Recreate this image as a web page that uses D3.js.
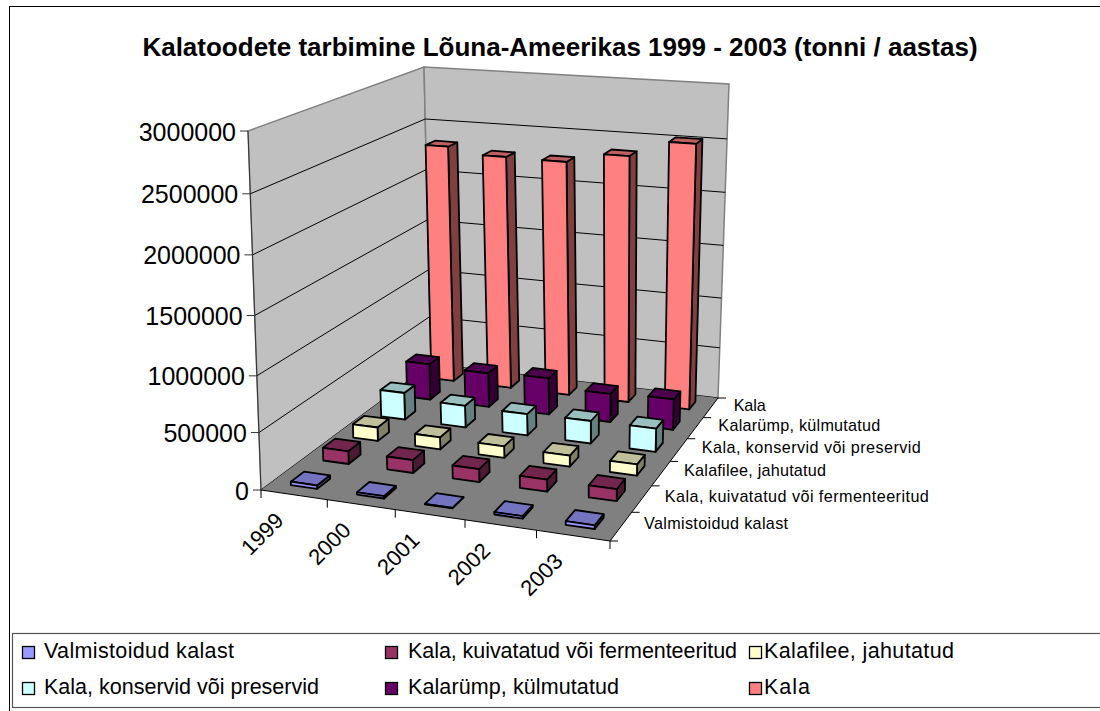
<!DOCTYPE html>
<html><head><meta charset="utf-8">
<style>html,body{margin:0;padding:0;background:#fff}svg{display:block}text{font-family:"Liberation Sans",Arial,sans-serif;fill:#000}</style>
<script src="https://cdn.jsdelivr.net/npm/d3@7/dist/d3.min.js"></script></head>
<body><svg id="c" width="1100" height="711"></svg>
<script>
const years = ["1999","2000","2001","2002","2003"];
const seriesNames = ["Valmistoidud kalast","Kala, kuivatatud või fermenteeritud","Kalafilee, jahutatud","Kala, konservid või preservid","Kalarümp, külmutatud","Kala"];
const valmistoidud = [30000,20000,5000,20000,30000];
const kuivatatud = [115000,115000,115000,105000,105000];
const filee = [125000,110000,105000,100000,100000];
const konservid = [255000,205000,200000,210000,215000];
const rump = [350000,330000,350000,270000,290000];
const kala = [2328000,2270000,2265000,2363000,2519000];
const seriesValues = [valmistoidud,kuivatatud,filee,konservid,rump,kala];
const seriesColors = ["#9999FF","#993366","#FFFFCC","#CCFFFF","#660066","#FF8080"];
const valueTicks = [0,500000,1000000,1500000,2000000,2500000,3000000];
// measured label widths of the picture, used only to fit the text
const depthLabelWidths = [144,264,142,219,162,32];
const legendLabelWidths = [190,329,190,275,211,46];

// projection frame
const floorQuad = [[261,490],[610,541],[718,398],[431,364]];
const topQuad = [[248,131],[615,164],[729,84],[424,67]];
const heightFractions = [0,0.16,0.318,0.486,0.655,0.825,1];
function homography(q){
  const [[x0,y0],[x1,y1],[x2,y2],[x3,y3]] = q;
  const dx1=x1-x2,dx2=x3-x2,dx3=x0-x1+x2-x3,dy1=y1-y2,dy2=y3-y2,dy3=y0-y1+y2-y3;
  const det=dx1*dy2-dx2*dy1, g=(dx3*dy2-dx2*dy3)/det, h=(dx1*dy3-dx3*dy1)/det;
  const a=x1-x0+g*x1,b=x3-x0+h*x3,d=y1-y0+g*y1,e=y3-y0+h*y3;
  return (u,v)=>{const w=g*u+h*v+1;return [(a*u+b*v+x0)/w,(d*u+e*v+y0)/w];};
}
const H0=homography(floorQuad),H1=homography(topQuad);
const U=d3.scaleBand().domain(years).range([0,1]);
const V=d3.scaleBand().domain(seriesNames).range([0,1]);
const Z=d3.scaleLinear().domain(valueTicks).range(heightFractions);
function P(u,v,val){const t=Z(val),a=H0(u,v),b=H1(u,v);return [a[0]+(b[0]-a[0])*t,a[1]+(b[1]-a[1])*t];}
const poly=pts=>pts.map(p=>p[0].toFixed(1)+","+p[1].toFixed(1)).join(" ");

const svg=d3.select("#c");
svg.append("rect").attr("x",9.5).attr("y",6.5).attr("width",1200).attr("height",800).attr("fill","#fff").attr("stroke","#000").attr("stroke-width",1);

svg.append("text").attr("x",560).attr("y",56).attr("text-anchor","middle").attr("font-size",26).attr("font-weight","bold").text("Kalatoodete tarbimine Lõuna-Ameerikas 1999 - 2003 (tonni / aastas)");

// walls and floor
const zMax=3000000;
svg.append("polygon").attr("points",poly([P(0,0,0),P(0,0,zMax),P(0,1,zMax),P(0,1,0)])).attr("fill","#C0C0C0").attr("stroke","#808080").attr("stroke-width",1.5);
svg.append("polygon").attr("points",poly([P(0,1,0),P(0,1,zMax),P(1,1,zMax),P(1,1,0)])).attr("fill","#C0C0C0").attr("stroke","#808080").attr("stroke-width",1.5);
valueTicks.forEach(t=>{ if(t===zMax) return;
  svg.append("polyline").attr("points",poly([P(0,0,t),P(0,1,t),P(1,1,t)])).attr("fill","none").attr("stroke","#000").attr("stroke-width",1);
});
svg.append("polygon").attr("points",poly([P(0,0,0),P(1,0,0),P(1,1,0),P(0,1,0)])).attr("fill","#808080");
const axisLine=(a,b,c="#000")=>svg.append("line").attr("x1",a[0]).attr("y1",a[1]).attr("x2",b[0]).attr("y2",b[1]).attr("stroke",c).attr("stroke-width",1);
axisLine(P(0,0,0),P(1,0,0));
axisLine(P(1,0,0),P(1,1,0));
axisLine(P(0,0,0),P(0,0,zMax),"#333");

// value axis
valueTicks.forEach(t=>{const p=P(0,0,t);
  axisLine([p[0]-8,p[1]],p,"#333");
  svg.append("text").attr("x",p[0]-12).attr("y",p[1]+9.5).attr("text-anchor","end").attr("font-size",25).text(t);
});
// category axis
years.forEach(y=>{const p=P(U(y),0,0);axisLine(p,[p[0],p[1]+8]);});
{const p=P(1,0,0);axisLine(p,[p[0],p[1]+8]);}
years.forEach(y=>{const p=P(U(y)+U.bandwidth()/2,0,0);
  svg.append("text").attr("transform",`translate(${p[0]-9},${p[1]+27}) rotate(-45)`).attr("text-anchor","end").attr("font-size",22).text(y);
});
// depth axis
seriesNames.forEach((s,i)=>{const p=P(1,V(s),0);axisLine(p,[p[0]+8,p[1]]);
  const c=P(1,V(s)+V.bandwidth()/2,0);
  svg.append("text").attr("x",c[0]+23).attr("y",c[1]+3).attr("font-size",16.2).attr("textLength",depthLabelWidths[i]).attr("lengthAdjust","spacing").text(s);
});
{const p=P(1,1,0);axisLine(p,[p[0]+8,p[1]]);}

// bars: back row first
const frac=0.4;
for(let si=seriesNames.length-1;si>=0;si--){
  const s=seriesNames[si],col=d3.color(seriesColors[si]);
  const shade=k=>d3.rgb(col.r*k,col.g*k,col.b*k).formatHex();
  years.forEach((y,i)=>{
    const val=seriesValues[si][i];
    const bw=U.bandwidth(),bd=V.bandwidth();
    const u0=U(y)+bw*(1-frac)/2,u1=u0+bw*frac,v0=V(s)+bd*(1-frac)/2,v1=v0+bd*frac;
    const g=svg.append("g").attr("stroke","#000").attr("stroke-width",1.8).attr("stroke-linejoin","round");
    g.append("polygon").attr("points",poly([P(u1,v0,0),P(u1,v1,0),P(u1,v1,val),P(u1,v0,val)])).attr("fill",shade(0.5));
    g.append("polygon").attr("points",poly([P(u0,v0,val),P(u1,v0,val),P(u1,v1,val),P(u0,v1,val)])).attr("fill",shade(0.75));
    g.append("polygon").attr("points",poly([P(u0,v0,0),P(u1,v0,0),P(u1,v0,val),P(u0,v0,val)])).attr("fill",col.formatHex());
  });
}

// legend
svg.append("rect").attr("x",12.5).attr("y",633.5).attr("width",1200).attr("height",74).attr("fill","#fff").attr("stroke","#555").attr("stroke-width",1.2);
const legendX=[[22,44],[385,408],[749,764]];
seriesNames.forEach((name,i)=>{
  const col=i%3,row=Math.floor(i/3),[sx,tx]=legendX[col],yb=658+row*36;
  svg.append("rect").attr("x",sx+.5).attr("y",yb-12+.5).attr("width",12).attr("height",12).attr("fill",seriesColors[i]).attr("stroke","#000").attr("stroke-width",1.3);
  svg.append("text").attr("x",tx).attr("y",yb).attr("font-size",21.5).attr("textLength",legendLabelWidths[i]).attr("lengthAdjust","spacing").text(name);
});
</script></body></html>
